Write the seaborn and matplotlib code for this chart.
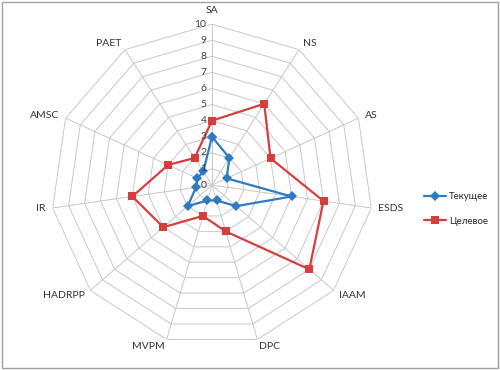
import numpy as np
import pandas as pd
import seaborn as sns
import matplotlib
matplotlib.use('Agg')
import matplotlib.pyplot as plt

categories = ['SA', 'NS', 'AS', 'ESDS', 'IAAM', 'DPC', 'MVPM',
              'HADRPP', 'IR', 'AMSC', 'PAET']
current = [3, 2, 1, 5, 2, 1, 1, 2, 1, 1, 1]
target = [4, 6, 4, 7, 8, 3, 2, 4, 5, 3, 2]
series_names = ['Текущее', 'Целевое']
r_ticks = list(range(0, 11))

sns.set_theme(style='white')
plt.rcParams['font.family'] = ['Lato', 'DejaVu Sans']

n = len(categories)
angles = np.linspace(0, 2 * np.pi, n, endpoint=False)

# таблица для seaborn, первая точка повторяется в конце чтобы замкнуть контур
rows = []
for name, vals in zip(series_names, [current, target]):
    for a, v in zip(list(angles) + [2 * np.pi], vals + [vals[0]]):
        rows.append({'angle': a, 'value': v, 'series': name})
df = pd.DataFrame(rows)

fig = plt.figure(figsize=(5, 3.7), dpi=100)
ax = fig.add_axes([0.102, 0.0649, 0.644, 0.870], projection='polar')
ax.set_theta_offset(np.pi / 2)
ax.set_theta_direction(-1)
ax.set_ylim(0, 10)
ax.grid(False)
ax.spines['polar'].set_visible(False)
ax.set_xticks([])
ax.set_yticks([])
ax.set_facecolor('none')

# многоугольная сетка как в Excel
closed = np.append(angles, angles[0])
for r in r_ticks[1:]:
    ax.plot(closed, [r] * (n + 1), color='#c8c8c8', lw=0.7, zorder=1)
for a in angles:
    ax.plot([a, a], [0, 10], color='#c8c8c8', lw=0.7, zorder=1)

sns.lineplot(data=df, x='angle', y='value', hue='series', style='series',
             palette={'Текущее': '#2e7bc4', 'Целевое': '#d63e3e'},
             markers={'Текущее': 'D', 'Целевое': 's'}, dashes=False,
             sort=False, linewidth=1.6, markersize=5.5, markeredgewidth=0,
             ax=ax, zorder=3)
ax.set_xlabel('')
ax.set_ylabel('')

# подписи шкалы
for r in r_ticks:
    ax.annotate(str(r), xy=(0, r), xytext=(-4, 0), textcoords='offset points',
                ha='right', va='center', fontsize=7.5, color='#404040')

# подписи осей
for a, lab in zip(angles, categories):
    s = np.sin(a)
    ha = 'center' if abs(s) < 0.1 else ('left' if s > 0 else 'right')
    rr = 10.85 if abs(s) < 0.1 else 10.45
    ax.text(a, rr, lab, ha=ha, va='center', fontsize=7.5, color='#303030')

handles, labels = ax.get_legend_handles_labels()
ax.get_legend().remove()
fig.legend(handles, labels, loc='center left', bbox_to_anchor=(0.83, 0.435),
           frameon=False, fontsize=7, handlelength=2.3, labelspacing=1.6,
           handletextpad=0.3)

fig.patches.append(plt.Rectangle((0.004, 0.005), 0.992, 0.99, fill=False,
                                 edgecolor='#a0a0a0', lw=1.0,
                                 transform=fig.transFigure))

fig.savefig('out.png', dpi=100)
